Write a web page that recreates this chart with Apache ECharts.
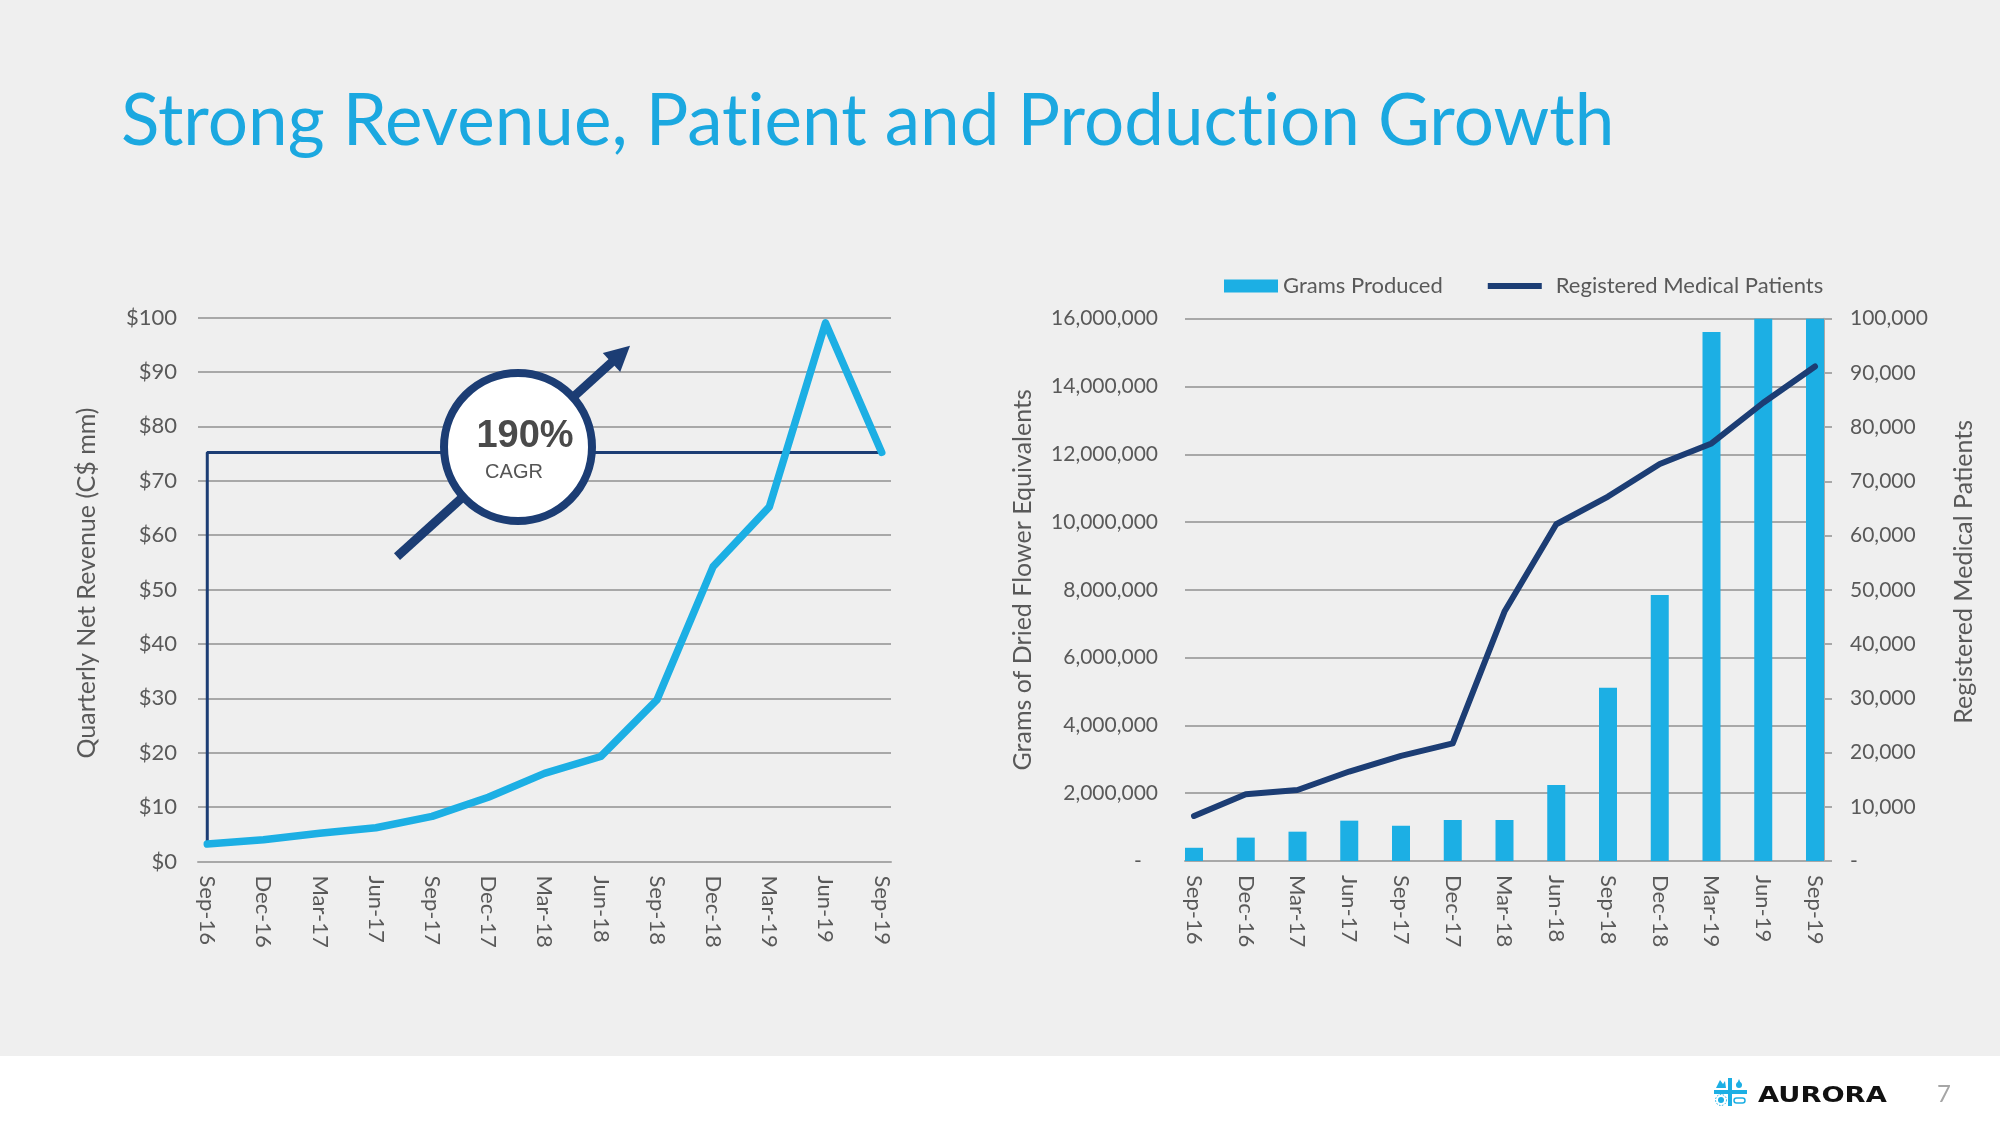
<!DOCTYPE html>
<html><head><meta charset="utf-8">
<script src="https://cdn.jsdelivr.net/npm/echarts@6/dist/echarts.min.js"></script>
<style>html,body{margin:0;padding:0;background:#efefef}#c{width:2000px;height:1125px}</style>
</head><body><div id="c"></div>
<script>
// ---- data ----
const categories = ['Sep-16','Dec-16','Mar-17','Jun-17','Sep-17','Dec-17','Mar-18','Jun-18','Sep-18','Dec-18','Mar-19','Jun-19','Sep-19'];
const revenue = [3.2, 4.0, 5.2, 6.2, 8.3, 11.8, 16.2, 19.3, 29.7, 54.2, 65.2, 99.0, 75.2];
const gramsProduced = [390000, 690000, 865000, 1190000, 1040000, 1210000, 1210000, 2240000, 5110000, 7850000, 15610000, 16000000, 16000000];
const patients = [8300, 12300, 13100, 16500, 19400, 21700, 46000, 62100, 67200, 73200, 77000, 84500, 91200];
const revenueTicks = [0, 10, 20, 30, 40, 50, 60, 70, 80, 90, 100];
const gramsTicks = [0, 2000000, 4000000, 6000000, 8000000, 10000000, 12000000, 14000000, 16000000];
const patientTicks = [0, 10000, 20000, 30000, 40000, 50000, 60000, 70000, 80000, 90000, 100000];
const cagrText = '190%';
const cagrSub = 'CAGR';

// ---- styles ----
const FONT = 'Lato';
const LBL = '#595959';
const GRID = '#a8a8a8';
const BLUE = '#1cafe4';
const NAVY = '#1c3d74';
const ZWNJ = '\u200c';
const idx = categories.map((c, i) => i);
const fmtNum = v => v.toLocaleString('en-US');

const chart = echarts.init(document.getElementById('c'), null, {renderer: 'canvas'});

const xCommon = (gi, min, max) => ({
  type: 'value', gridIndex: gi, min: min, max: max,
  axisLine: {show: true, onZero: false, lineStyle: {color: GRID, width: 2}},
  axisTick: {show: false},
  splitLine: {show: false},
  axisLabel: {
    customValues: idx, rotate: -90, margin: 14,
    formatter: v => categories[Math.round(v)] || '',
    fontFamily: FONT, fontSize: 22, color: LBL
  }
});

const option = {
  backgroundColor: '#efefef',
  animation: false,
  textStyle: {fontFamily: FONT},
  grid: [
    {left: 198, right: 2000 - 891, top: 317.5, bottom: 1125 - 861.5},
    {left: 1185, right: 2000 - 1824, top: 318.7, bottom: 1125 - 861}
  ],
  legend: {
    left: 1224, top: 275, padding: 0, itemWidth: 54, itemHeight: 13, itemGap: 45,
    textStyle: {fontFamily: FONT, fontSize: 22, color: LBL},
    data: [
      {name: 'Grams Produced', icon: 'rect'},
      {name: 'Registered Medical Patients', icon: 'path://M0,0 L54,0 L54,6 L0,6 Z', textStyle: {padding: [0, 0, 0, 9]}}
    ]
  },
  xAxis: [
    xCommon(0, -0.165, 12.165),
    xCommon(1, -0.174, 12.174)
  ],
  yAxis: [
    {
      type: 'value', gridIndex: 0, min: revenueTicks[0], max: revenueTicks[revenueTicks.length - 1], interval: 10,
      name: 'Quarterly Net Revenue (C$ mm)', nameLocation: 'middle', nameRotate: 90, nameGap: 99,
      nameTextStyle: {fontFamily: FONT, fontSize: 25, color: LBL, padding: [0, 0, 0, 13]},
      axisLine: {show: false}, axisTick: {show: false},
      splitLine: {lineStyle: {color: GRID, width: 2}},
      axisLabel: {margin: 21, fontFamily: FONT, fontSize: 22, color: LBL, formatter: v => '$' + v}
    },
    {
      type: 'value', gridIndex: 1, min: gramsTicks[0], max: gramsTicks[gramsTicks.length - 1], interval: 2000000,
      name: 'Grams of Dried Flower Equivalents', nameLocation: 'middle', nameRotate: 90, nameGap: 150,
      nameTextStyle: {fontFamily: FONT, fontSize: 25, color: LBL, padding: [0, 0, 0, 20]},
      axisLine: {show: false}, axisTick: {show: false},
      splitLine: {lineStyle: {color: GRID, width: 2}},
      axisLabel: {margin: 27, fontFamily: FONT, fontSize: 21, color: LBL,
        formatter: v => v === 0 ? '-\u00a0\u00a0\u00a0' : fmtNum(v)}
    },
    {
      type: 'value', gridIndex: 1, position: 'right', min: patientTicks[0], max: patientTicks[patientTicks.length - 1], interval: 10000,
      name: 'Registered Medical Patients', nameLocation: 'middle', nameRotate: 90, nameGap: 127,
      nameTextStyle: {fontFamily: FONT, fontSize: 25, color: LBL, padding: [0, 0, 0, 36]},
      axisLine: {show: true, lineStyle: {color: GRID, width: 2}},
      axisTick: {show: true, length: 8, lineStyle: {color: GRID, width: 2}},
      splitLine: {show: false},
      axisLabel: {margin: 26, fontFamily: FONT, fontSize: 21, color: LBL,
        formatter: v => v === 0 ? '-' : fmtNum(v)}
    }
  ],
  series: [
    {
      name: 'CAGR bracket', type: 'line', xAxisIndex: 0, yAxisIndex: 0,
      data: [[0, revenue[0]], [0, revenue[revenue.length - 1]], [categories.length - 1, revenue[revenue.length - 1]]],
      symbol: 'none', lineStyle: {color: NAVY, width: 3}, z: 2, silent: true
    },
    {
      name: 'Quarterly Net Revenue', type: 'line', xAxisIndex: 0, yAxisIndex: 0,
      data: revenue.map((v, i) => [i, v]),
      symbol: 'none', lineStyle: {color: BLUE, width: 7.5, cap: 'round', join: 'round'}, z: 3
    },
    {
      name: 'Grams Produced', type: 'bar', xAxisIndex: 1, yAxisIndex: 1,
      data: gramsProduced.map((v, i) => [i, v]),
      barWidth: 18, itemStyle: {color: BLUE}, z: 2
    },
    {
      name: 'Registered Medical Patients', type: 'line', xAxisIndex: 1, yAxisIndex: 2,
      data: patients.map((v, i) => [i, v]),
      symbol: 'none', lineStyle: {color: NAVY, width: 6, cap: 'round', join: 'round'}, itemStyle: {color: NAVY}, z: 3
    }
  ],
  graphic: [
    {type: 'rect', z: -10, shape: {x: 0, y: 1056, width: 2000, height: 69}, style: {fill: '#ffffff'}},
    {type: 'text', left: 121, top: 87, z: 10,
      style: {text: 'Strong Revenue, Pat' + ZWNJ + 'ient and Product' + ZWNJ + 'ion Growth', font: '71px Lato', fill: '#1ba8e0'}},
    // arrow
    {type: 'line', z: 20, shape: {x1: 397, y1: 556.7, x2: 612, y2: 362}, style: {stroke: NAVY, lineWidth: 9}},
    {type: 'polygon', z: 20, shape: {points: [[630, 345.7], [620.2, 372.1], [602.8, 352.9]]}, style: {fill: NAVY}},
    // circle badge
    {type: 'circle', z: 21, shape: {cx: 518, cy: 447, r: 74}, style: {fill: '#ffffff', stroke: NAVY, lineWidth: 8}},
    {type: 'text', z: 22, x: 525, y: 437, style: {text: cagrText, font: 'bold 38px "Liberation Sans", Arial', fill: '#4a4a4a', align: 'center', verticalAlign: 'middle'}},
    {type: 'text', z: 22, x: 514, y: 472, style: {text: cagrSub, font: '20px "Liberation Sans", Arial', fill: '#555555', align: 'center', verticalAlign: 'middle'}},
    // logo
    {type: 'group', z: 30, children: [
      {type: 'rect', shape: {x: 1728, y: 1078, width: 4, height: 28}, style: {fill: BLUE}},
      {type: 'rect', shape: {x: 1714, y: 1090, width: 33, height: 4}, style: {fill: BLUE}},
      {type: 'polygon', shape: {points: [[1716, 1088], [1720, 1080], [1723, 1084], [1725, 1081], [1726, 1088]]}, style: {fill: BLUE}},
      {type: 'circle', shape: {cx: 1739, cy: 1085, r: 3}, style: {fill: BLUE}},
      {type: 'polygon', shape: {points: [[1739, 1079], [1736.5, 1085], [1741.5, 1085]]}, style: {fill: BLUE}},
      {type: 'circle', shape: {cx: 1721, cy: 1100, r: 3}, style: {fill: BLUE}},
      {type: 'circle', shape: {cx: 1721, cy: 1100, r: 5.5}, style: {fill: 'none', stroke: BLUE, lineWidth: 1, lineDash: [1.5, 1.5]}},
      {type: 'rect', shape: {x: 1734, y: 1098, width: 11, height: 5, r: 2.5}, style: {fill: 'none', stroke: BLUE, lineWidth: 1.5}},
      {type: 'text', x: 1758, y: 1096, scaleX: 1.24, originX: 0, originY: 0,
        style: {text: 'AURORA', font: 'bold 22px "DejaVu Sans"', fill: '#111111', verticalAlign: 'middle'}},
      {type: 'text', x: 1937, y: 1094, style: {text: '7', font: '24px Lato', fill: '#a6a6a6', verticalAlign: 'middle'}}
    ]}
  ]
};
chart.setOption(option);
</script>
</body></html>
